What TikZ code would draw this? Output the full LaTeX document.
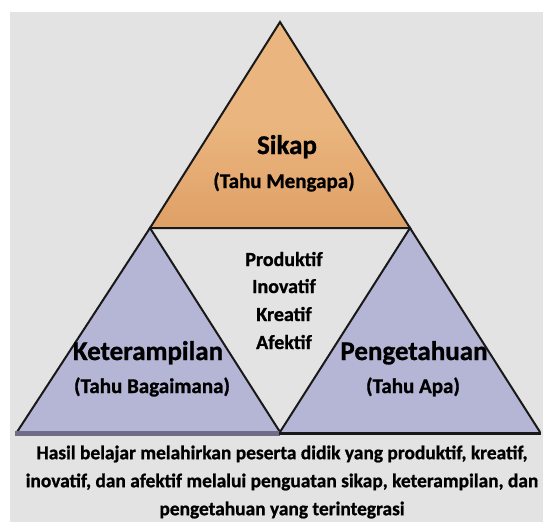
\documentclass[tikz,border=0pt]{standalone}
\usepackage{fontspec}
\setmainfont{Carlito}[BoldFeatures={FakeBold=1}]
\definecolor{bg}{HTML}{E3E3E3}
\definecolor{orangefill}{HTML}{EAB57E}
\definecolor{orangedark}{HTML}{DFA066}
\definecolor{bluefill}{HTML}{B5B5D5}
\definecolor{baseband}{HTML}{6E6C86}
\begin{document}
\begin{tikzpicture}[x=1pt,y=-1pt,
  tri/.style={draw=black!90,line width=2pt,line join=miter},
  title/.style={font=\bfseries\fontsize{27}{29}\selectfont,inner sep=0pt,anchor=base},
  sub/.style={font=\bfseries\fontsize{21}{23}\selectfont,inner sep=0pt,anchor=base},
  item/.style={font=\bfseries\fontsize{20}{22}\selectfont,inner sep=0pt,anchor=base},
  note/.style={font=\bfseries\fontsize{19.4}{28}\selectfont,align=center,inner sep=0pt,anchor=center}]
\useasboundingbox (0,0) rectangle (543,522);
\fill[white] (0,0) rectangle (543,522);
\fill[bg] (10,12) rectangle (543,522);
% top triangle
\shade[top color=orangefill,bottom color=orangedark,middle color=orangefill] (280,22) -- (150,228) -- (410,228) -- cycle;
\draw[tri] (280,22) -- (150,228) -- (410,228) -- cycle;
% left triangle
\fill[bluefill] (150,228) -- (17,432) -- (280,432) -- cycle;
\draw[tri] (17,432) -- (150,228) -- (280,432);
\draw[baseband,line width=5pt] (15,433) -- (280,433);
% right triangle
\fill[bluefill] (410,228) -- (280,432) -- (540,432) -- cycle;
\draw[tri] (280,432) -- (410,228) -- (540,432);
\draw[black!90,line width=3pt] (279,433) -- (541,433);
% texts
\node[title] (sikap) at (287,154) {Sikap};
\node[sub] (sikapsub) at (284,188) {(Tahu Mengapa)};
\node[item] (p1) at (284,266) {Produktif};
\node[item] (p2) at (284,293) {Inovatif};
\node[item] (p3) at (284,321) {Kreatif};
\node[item] (p4) at (284,349) {Afektif};
\node[title] (ket) at (148,360) {Keterampilan};
\node[sub] (ketsub) at (152,393) {(Tahu Bagaimana)};
\node[title] (peng) at (414,360) {Pengetahuan};
\node[sub] (pengsub) at (413,393) {(Tahu Apa)};
\node[note] (hasil) at (282,482) {Hasil belajar melahirkan peserta didik yang produktif, kreatif,\\inovatif, dan afektif melalui penguatan sikap, keterampilan, dan\\pengetahuan yang terintegrasi};
\end{tikzpicture}
\end{document}
